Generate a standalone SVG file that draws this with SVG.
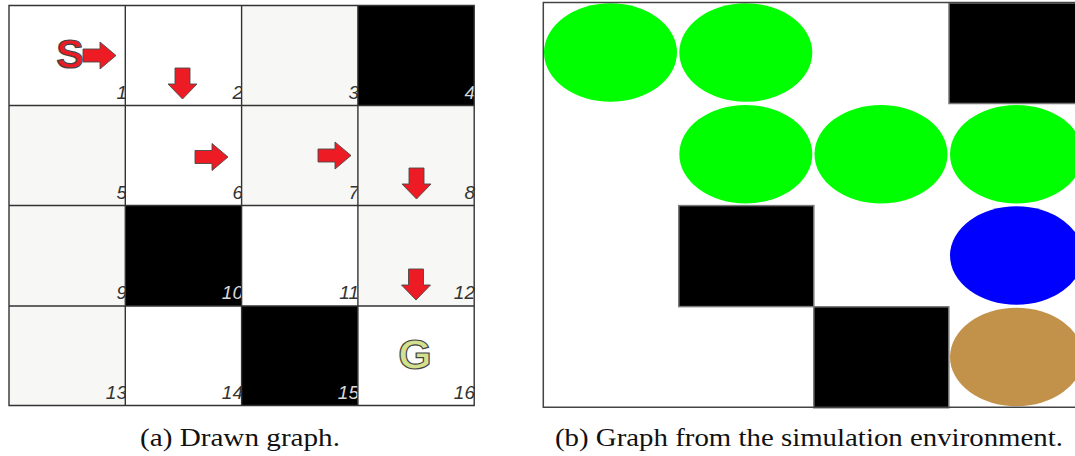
<svg xmlns="http://www.w3.org/2000/svg" width="1075" height="456" viewBox="0 0 1075 456">
  <style>
    .light { fill: #f7f7f5; }
    .white { fill: #ffffff; }
    .wall { fill: #000000; }
    .gridline { stroke: #333333; stroke-width: 1.4; fill: none; }
    .num { font-family: "Liberation Sans", Arial, sans-serif; font-style: italic; font-size: 19px; fill: #333333; text-anchor: end; }
    .num.inv { fill: #d8d8d8; }
    .move { fill: #ed1c24; stroke: #4a4a4a; stroke-width: 0.9; stroke-linejoin: miter; }
    .mark { font-family: "Liberation Sans", Arial, sans-serif; font-weight: bold; text-anchor: middle; stroke: #444444; stroke-width: 1.2; }
    .simwall { fill: #000000; stroke: #777777; stroke-width: 1.5; }
    .frame { stroke: #444444; stroke-width: 1.5; fill: none; }
    .caption { font-family: "Liberation Serif", "Times New Roman", serif; font-size: 26px; fill: #111111; }
  </style>
  <defs>
    <!-- block arrow pointing right, origin at left end of shaft, vertically centred -->
    <path id="arrow-right" d="M0,-6.5 H17 V-13.5 L33,0 L17,13.5 V6.5 H0 Z"/>
    <!-- block arrow pointing down, origin at top centre of shaft -->
    <path id="arrow-down" d="M-7.5,0 H7.5 V16 H14.5 L0,31 L-14.5,16 H-7.5 Z"/>
  </defs>

  <rect width="1075" height="456" fill="#ffffff"/>

  <!-- (a) hand-drawn grid world -->
  <g id="drawn-grid">
    <g id="cell-1"><rect class="white" x="9" y="5.5" width="116.3" height="100"/><text class="num" x="127" y="98.5">1</text></g>
    <g id="cell-2"><rect class="white" x="125.3" y="5.5" width="116.3" height="100"/><text class="num" x="243" y="98.5">2</text></g>
    <g id="cell-3"><rect class="light" x="241.6" y="5.5" width="116.3" height="100"/><text class="num" x="359" y="98.5">3</text></g>
    <g id="cell-4"><rect class="wall" x="357.9" y="5.5" width="116.3" height="100"/><text class="num inv" x="475" y="98.5">4</text></g>

    <g id="cell-5"><rect class="light" x="9" y="105.5" width="116.3" height="100"/><text class="num" x="127" y="198.5">5</text></g>
    <g id="cell-6"><rect class="white" x="125.3" y="105.5" width="116.3" height="100"/><text class="num" x="243" y="198.5">6</text></g>
    <g id="cell-7"><rect class="light" x="241.6" y="105.5" width="116.3" height="100"/><text class="num" x="359" y="198.5">7</text></g>
    <g id="cell-8"><rect class="light" x="357.9" y="105.5" width="116.3" height="100"/><text class="num" x="475" y="198.5">8</text></g>

    <g id="cell-9"><rect class="light" x="9" y="205.5" width="116.3" height="100.5"/><text class="num" x="127" y="299">9</text></g>
    <g id="cell-10"><rect class="wall" x="125.3" y="205.5" width="116.3" height="100.5"/><text class="num inv" x="243" y="299">10</text></g>
    <g id="cell-11"><rect class="white" x="241.6" y="205.5" width="116.3" height="100.5"/><text class="num" x="359" y="299">11</text></g>
    <g id="cell-12"><rect class="light" x="357.9" y="205.5" width="116.3" height="100.5"/><text class="num" x="475" y="299">12</text></g>

    <g id="cell-13"><rect class="light" x="9" y="306" width="116.3" height="99.5"/><text class="num" x="127" y="398.5">13</text></g>
    <g id="cell-14"><rect class="white" x="125.3" y="306" width="116.3" height="99.5"/><text class="num" x="243" y="398.5">14</text></g>
    <g id="cell-15"><rect class="wall" x="241.6" y="306" width="116.3" height="99.5"/><text class="num inv" x="359" y="398.5">15</text></g>
    <g id="cell-16"><rect class="white" x="357.9" y="306" width="116.3" height="99.5"/><text class="num" x="475" y="398.5">16</text></g>

    <!-- grid lines -->
    <path class="gridline" d="M9,5.5 H474.2 V405.5 H9 Z M125.3,5.5 V405.5 M241.6,5.5 V405.5 M357.9,5.5 V405.5 M9,105.5 H474.2 M9,205.5 H474.2 M9,306 H474.2"/>
  </g>

  <!-- start / goal markers -->
  <g id="start">
    <text class="mark" x="70" y="68" font-size="41" fill="#ed1c24">S</text>
  </g>
  <g id="goal">
    <text class="mark" x="415" y="369" font-size="43" fill="#d3e08c">G</text>
  </g>

  <!-- policy moves -->
  <g id="moves">
    <use href="#arrow-right" class="move" x="83" y="55.5"/>
    <use href="#arrow-down" class="move" x="182.5" y="68"/>
    <use href="#arrow-right" class="move" x="195" y="157"/>
    <use href="#arrow-right" class="move" x="318" y="155.5"/>
    <use href="#arrow-down" class="move" x="416.5" y="168"/>
    <use href="#arrow-down" class="move" x="416" y="269"/>
  </g>

  <!-- (b) simulation environment rendering -->
  <g id="sim-grid">
    <rect x="543" y="2.5" width="540" height="404.8" fill="#ffffff"/>
    <g id="sim-cell-1"><ellipse cx="610.5" cy="52.5" rx="66.5" ry="49.3" fill="#00ff00"/></g>
    <g id="sim-cell-2"><ellipse cx="745.8" cy="52.5" rx="66.5" ry="49.3" fill="#00ff00"/></g>
    <g id="sim-cell-4"><rect class="simwall" x="949" y="3" width="140" height="100.5"/></g>
    <g id="sim-cell-6"><ellipse cx="745.8" cy="154.2" rx="66.5" ry="49.3" fill="#00ff00"/></g>
    <g id="sim-cell-7"><ellipse cx="881" cy="154.2" rx="66.5" ry="49.3" fill="#00ff00"/></g>
    <g id="sim-cell-8"><ellipse cx="1016.5" cy="154.2" rx="66.5" ry="49.3" fill="#00ff00"/></g>
    <g id="sim-cell-10"><rect class="simwall" x="678.8" y="205.6" width="135" height="101"/></g>
    <g id="sim-cell-12"><ellipse cx="1016.5" cy="255.5" rx="66.5" ry="49.3" fill="#0000ff"/></g>
    <g id="sim-cell-15"><rect class="simwall" x="813.8" y="306.8" width="135" height="101"/></g>
    <g id="sim-cell-16"><ellipse cx="1016.5" cy="357" rx="66.5" ry="49.3" fill="#c3924a"/></g>
    <path class="frame" d="M1080,2.5 H543.3 V407.3 H1080"/>
  </g>

  <!-- captions -->
  <g id="captions">
    <text class="caption" x="140" y="446" textLength="200" lengthAdjust="spacingAndGlyphs">(a) Drawn graph.</text>
    <text class="caption" x="555" y="446" textLength="508" lengthAdjust="spacingAndGlyphs">(b) Graph from the simulation environment.</text>
  </g>
</svg>
